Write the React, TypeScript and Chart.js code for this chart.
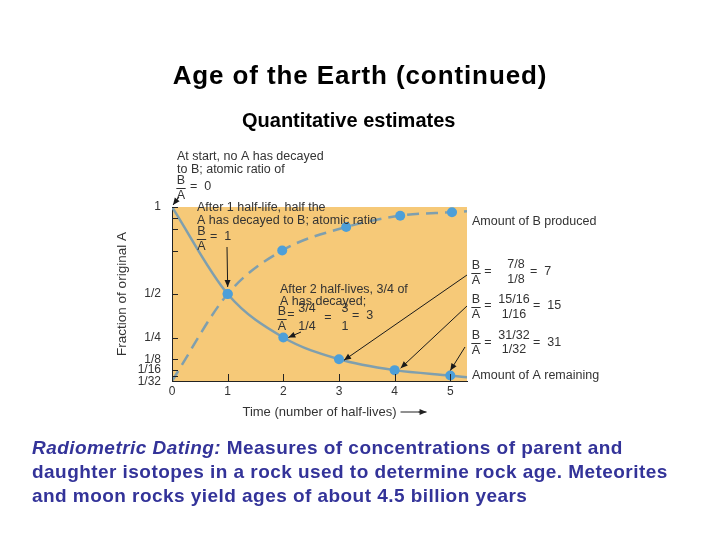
import React, { useEffect, useRef } from "react";
import { Chart, registerables } from "chart.js";

Chart.register(...registerables);

// ---- data ----
const timeA = [0, 1, 2, 3, 4, 5, 5.3];
const amountA = [1, 0.5, 0.25, 0.125, 0.0625, 0.03125, 0.022];
const dotA = [false, true, true, true, true, true, false];

const timeB = [0, 1, 1.98, 3.13, 4.1, 5.03, 5.3];
const amountB = [0, 0.5, 0.75, 0.885, 0.95, 0.97, 0.975];
const dotB = [false, true, true, true, true, true, false];

const yTickValues = [1, 15 / 16, 7 / 8, 3 / 4, 1 / 2, 1 / 4, 1 / 8, 1 / 16, 1 / 32];
const yTickLabels = ["1", "", "", "", "1/2", "1/4", "1/8", "1/16", "1/32"];
const xTickValues = [0, 1, 2, 3, 4, 5];
const xTickLabels = ["0", "1", "2", "3", "4", "5"];

const TITLE = "Age of the Earth (continued)";
const SUBTITLE = "Quantitative estimates";
const X_TITLE = "Time (number of half-lives)";
const Y_TITLE = "Fraction of original A";

// ---- styles ----
const FONT = '"Liberation Sans", Arial, Helvetica, sans-serif';
const PAPER = "#F6C978";
const CURVE = "#7f9fae";
const DOT = "#4d9fd8";
const INK = "#333333";
const ANN_SIZE = 12.5;

function arrow(ctx: CanvasRenderingContext2D, x1: number, y1: number, x2: number, y2: number) {
  ctx.beginPath();
  ctx.moveTo(x1, y1);
  ctx.lineTo(x2, y2);
  ctx.stroke();
  const a = Math.atan2(y2 - y1, x2 - x1);
  const len = 7;
  const w = 3;
  ctx.beginPath();
  ctx.moveTo(x2, y2);
  ctx.lineTo(x2 - len * Math.cos(a) + w * Math.sin(a), y2 - len * Math.sin(a) - w * Math.cos(a));
  ctx.lineTo(x2 - len * Math.cos(a) - w * Math.sin(a), y2 - len * Math.sin(a) + w * Math.cos(a));
  ctx.closePath();
  ctx.fill();
}

function txt(ctx: CanvasRenderingContext2D, s: string, x: number, y: number, align: CanvasTextAlign = "left") {
  ctx.textAlign = align;
  ctx.fillText(s, x, y);
}

// B over A with a short bar under B
function ratioBA(ctx: CanvasRenderingContext2D, cx: number, cy: number) {
  txt(ctx, "B", cx, cy - 7, "center");
  txt(ctx, "A", cx, cy + 7.5, "center");
  const w = ctx.measureText("B").width;
  ctx.beginPath();
  ctx.moveTo(cx - w / 2 - 0.5, cy + 0.5);
  ctx.lineTo(cx + w / 2 + 0.5, cy + 0.5);
  ctx.stroke();
}

const figurePlugin = {
  id: "figure",
  beforeDraw(chart: any) {
    const { ctx, chartArea: a } = chart;
    ctx.save();
    ctx.fillStyle = PAPER;
    ctx.fillRect(a.left, a.top, a.right - a.left, a.bottom - a.top);
    ctx.restore();
  },
  afterDraw(chart: any) {
    const { ctx, chartArea: a, scales } = chart;
    const xs = scales.x;
    const ys = scales.y;
    const L = a.left;
    const T = a.top;
    const R = a.right;
    const B = a.bottom;
    ctx.save();
    ctx.strokeStyle = "#222";
    ctx.fillStyle = "#222";
    ctx.lineWidth = 1;
    // inner tick marks
    yTickValues.forEach((v) => {
      const y = Math.round(ys.getPixelForValue(v)) + 0.5;
      ctx.beginPath();
      ctx.moveTo(L, y);
      ctx.lineTo(L + 6, y);
      ctx.stroke();
    });
    xTickValues.forEach((v) => {
      const x = Math.round(xs.getPixelForValue(v)) + 0.5;
      ctx.beginPath();
      ctx.moveTo(x, B);
      ctx.lineTo(x, B - 7);
      ctx.stroke();
    });

    // arrow after the x axis title
    ctx.font = `13px ${FONT}`;
    const tw = ctx.measureText(X_TITLE).width;
    const tx = (L + R) / 2 + tw / 2;
    const ty = B + 31;
    ctx.beginPath();
    ctx.moveTo(tx + 4, ty);
    ctx.lineTo(tx + 28, ty);
    ctx.stroke();
    arrow(ctx, tx + 22, ty, tx + 30, ty);

    // annotations
    ctx.fillStyle = INK;
    ctx.strokeStyle = INK;
    ctx.font = `${ANN_SIZE}px ${FONT}`;
    ctx.textBaseline = "middle";

    // start
    txt(ctx, "At start, no A has decayed", L + 5, T - 50);
    txt(ctx, "to B; atomic ratio of", L + 5, T - 37);
    ratioBA(ctx, L + 9, T - 19);
    txt(ctx, "=  0", L + 18, T - 20);

    // after 1 half-life
    txt(ctx, "After 1 half-life, half the", L + 25, T + 1);
    txt(ctx, "A has decayed to B; atomic ratio", L + 25, T + 14);
    ratioBA(ctx, L + 29.5, T + 32);
    txt(ctx, "=  1", L + 38, T + 30);

    // after 2 half-lives
    txt(ctx, "After 2 half-lives, 3/4 of", L + 108, T + 83);
    txt(ctx, "A has decayed;", L + 108, T + 95);
    ratioBA(ctx, L + 110, T + 112);
    txt(ctx, "=", L + 119, T + 108, "center");
    txt(ctx, "3/4", L + 135, T + 102, "center");
    txt(ctx, "1/4", L + 135, T + 120, "center");
    txt(ctx, "=", L + 156, T + 111, "center");
    txt(ctx, "3", L + 173, T + 102, "center");
    txt(ctx, "1", L + 173, T + 120, "center");
    txt(ctx, "=  3", L + 180, T + 109);

    // right-hand labels
    txt(ctx, "Amount of B produced", R + 5, T + 15);
    ratioBA(ctx, R + 9, T + 66);
    txt(ctx, "=", R + 21, T + 65, "center");
    txt(ctx, "7/8", R + 49, T + 58, "center");
    txt(ctx, "1/8", R + 49, T + 73, "center");
    txt(ctx, "=  7", R + 63, T + 65);

    ratioBA(ctx, R + 9, T + 100);
    txt(ctx, "=", R + 21, T + 99, "center");
    txt(ctx, "15/16", R + 47, T + 93, "center");
    txt(ctx, "1/16", R + 47, T + 108, "center");
    txt(ctx, "=  15", R + 66, T + 99);

    ratioBA(ctx, R + 9, T + 136);
    txt(ctx, "=", R + 21, T + 136, "center");
    txt(ctx, "31/32", R + 47, T + 129, "center");
    txt(ctx, "1/32", R + 47, T + 143, "center");
    txt(ctx, "=  31", R + 66, T + 136);

    txt(ctx, "Amount of A remaining", R + 5, T + 169);

    // arrows pointing at the plotted points
    ctx.strokeStyle = "#1a1a1a";
    ctx.fillStyle = "#1a1a1a";
    const p = (i: number) => ({ x: xs.getPixelForValue(timeA[i]), y: ys.getPixelForValue(amountA[i]) });
    const p0 = p(0), p1 = p(1), p2 = p(2), p3 = p(3), p4 = p(4), p5 = p(5);
    arrow(ctx, p0.x + 7, p0.y - 10, p0.x + 1, p0.y - 2);
    arrow(ctx, L + 55, T + 40, p1.x, p1.y - 7);
    arrow(ctx, L + 129, T + 125, p2.x + 5, p2.y);
    arrow(ctx, R, T + 68, p3.x + 5, p3.y + 1);
    arrow(ctx, R, T + 99, p4.x + 6, p4.y - 2);
    arrow(ctx, R - 2, T + 140, p5.x, p5.y - 5);
    ctx.restore();
  },
};

export default function App() {
  const ref = useRef<HTMLCanvasElement>(null);
  useEffect(() => {
    const yLabelOf = (v: number) => {
      const i = yTickValues.findIndex((t) => Math.abs(t - v) < 1e-9);
      const s = i >= 0 ? yTickLabels[i] : "";
      return s === "1/32" ? ["", s] : s;
    };
    const xLabelOf = (v: number) => {
      const i = xTickValues.findIndex((t) => Math.abs(t - v) < 1e-9);
      return i >= 0 ? xTickLabels[i] : "";
    };
    const chart = new Chart(ref.current as HTMLCanvasElement, {
      type: "line",
      data: {
        datasets: [
          {
            label: "Amount of A remaining",
            data: timeA.map((x, i) => ({ x, y: amountA[i] })),
            borderColor: CURVE,
            borderWidth: 2.5,
            cubicInterpolationMode: "monotone",
            pointRadius: dotA.map((d) => (d ? 5 : 0)),
            pointBackgroundColor: DOT,
            pointBorderWidth: 0,
            fill: false,
          },
          {
            label: "Amount of B produced",
            data: timeB.map((x, i) => ({ x, y: amountB[i] })),
            borderColor: CURVE,
            borderWidth: 2.5,
            borderDash: [12, 7],
            cubicInterpolationMode: "monotone",
            pointRadius: dotB.map((d) => (d ? 5 : 0)),
            pointBackgroundColor: DOT,
            pointBorderWidth: 0,
            fill: false,
          },
        ],
      },
      options: {
        animation: false,
        responsive: false,
        devicePixelRatio: 1,
        layout: { padding: { left: 112, top: 207, right: 253, bottom: 116 } },
        plugins: { legend: { display: false }, tooltip: { enabled: false } },
        scales: {
          x: {
            type: "linear",
            min: 0,
            max: 5.3,
            afterFit: (s: any) => {
              s.height = 43;
            },
            afterBuildTicks: (s: any) => {
              s.ticks = xTickValues.map((v) => ({ value: v }));
            },
            grid: { display: false, drawTicks: false },
            border: { display: true, color: "#222", width: 1 },
            ticks: {
              autoSkip: false,
              maxRotation: 0,
              padding: 3,
              color: INK,
              font: { family: FONT, size: 12 },
              callback: (v: any) => xLabelOf(Number(v)),
            },
            title: {
              display: true,
              text: X_TITLE,
              color: INK,
              font: { family: FONT, size: 13 },
              padding: { top: 4, bottom: 4 },
            },
          },
          y: {
            type: "linear",
            min: 0,
            max: 1,
            afterFit: (s: any) => {
              s.width = 60;
            },
            afterBuildTicks: (s: any) => {
              s.ticks = yTickValues.map((v) => ({ value: v }));
            },
            grid: { display: false, drawTicks: false },
            border: { display: true, color: "#222", width: 1 },
            ticks: {
              autoSkip: false,
              padding: 11,
              color: INK,
              font: { family: FONT, size: 12, lineHeight: 0.95 },
              callback: (v: any) => yLabelOf(Number(v)),
            },
            title: {
              display: true,
              text: Y_TITLE,
              color: INK,
              font: { family: FONT, size: 13.5 },
              padding: { top: 2, bottom: 4 },
            },
          },
        },
      },
      plugins: [figurePlugin],
    } as any);
    return () => chart.destroy();
  }, []);

  return (
    <div
      style={{
        position: "fixed",
        left: 0,
        top: 0,
        width: 720,
        height: 540,
        background: "#ffffff",
        overflow: "hidden",
        fontFamily: FONT,
      }}
    >
      <canvas ref={ref} width={720} height={540} style={{ position: "absolute", left: 0, top: 0 }} />
      <div
        style={{
          position: "absolute",
          left: 0,
          top: 63,
          width: 720,
          textAlign: "center",
          fontWeight: "bold",
          fontSize: 26,
          lineHeight: "24px",
          letterSpacing: "0.9px",
          color: "#000",
          whiteSpace: "nowrap",
        }}
      >
        {TITLE}
      </div>
      <div
        style={{
          position: "absolute",
          left: 242,
          top: 110,
          fontWeight: "bold",
          fontSize: 20,
          lineHeight: "20px",
          color: "#000",
          whiteSpace: "nowrap",
        }}
      >
        {SUBTITLE}
      </div>
      <div
        style={{
          position: "absolute",
          left: 32,
          top: 436,
          fontWeight: "bold",
          fontSize: 19,
          lineHeight: "24px",
          letterSpacing: "0.45px",
          color: "#333399",
          whiteSpace: "nowrap",
        }}
      >
        <i>Radiometric Dating:</i> Measures of concentrations of parent and
        <br />
        daughter isotopes in a rock used to determine rock age. Meteorites
        <br />
        and moon rocks yield ages of about 4.5 billion years
      </div>
    </div>
  );
}
